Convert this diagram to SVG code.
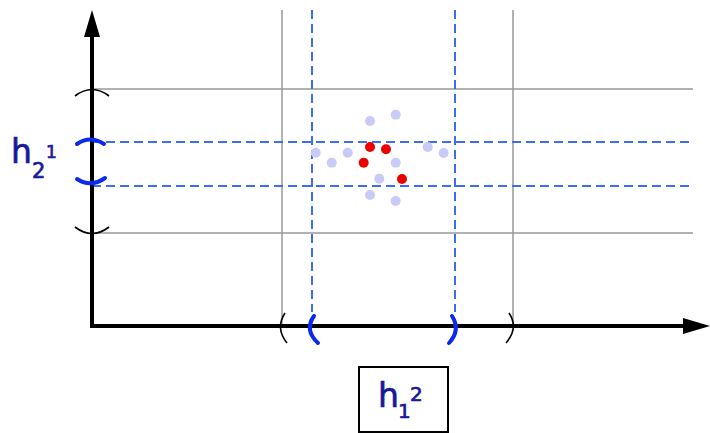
<svg xmlns="http://www.w3.org/2000/svg" width="710" height="433" viewBox="0 0 710 433">
<style>
.grid{stroke:#999;stroke-width:1.5;fill:none}
.dash{stroke:#3a6cf4;stroke-width:2;stroke-dasharray:9 5;fill:none}
.axis{stroke:#000;stroke-width:4;fill:none}
.bk{stroke:#000;stroke-width:1.6;fill:none}
.bb{stroke:#0a2af0;stroke-width:4;fill:none;stroke-linecap:round}
.lt{fill:#c9caf6}
.rd{fill:#ee0000}
.lbl{font-family:"DejaVu Sans",sans-serif;fill:#18189a;stroke:#18189a;stroke-width:0.7}
</style>
<rect width="710" height="433" fill="#fff"/>
<g id="grid">
<line class="grid" x1="282" y1="10" x2="282" y2="326"/>
<line class="grid" x1="513" y1="10" x2="513" y2="326"/>
<line class="grid" x1="92" y1="89" x2="693" y2="89"/>
<line class="grid" x1="92" y1="233" x2="693" y2="233"/>
</g>
<g id="dashed">
<line class="dash" x1="312" y1="10" x2="312" y2="312"/>
<line class="dash" x1="455" y1="10" x2="455" y2="312"/>
<line class="dash" x1="92" y1="142" x2="693" y2="142"/>
<line class="dash" x1="92" y1="186" x2="693" y2="186"/>
</g>
<g id="points">
<circle class="lt" cx="370" cy="121" r="5"/>
<circle class="lt" cx="395.7" cy="114.7" r="5"/>
<circle class="lt" cx="315.7" cy="152.7" r="5"/>
<circle class="lt" cx="331.7" cy="162.7" r="5"/>
<circle class="lt" cx="347.7" cy="152.7" r="5"/>
<circle class="lt" cx="427.7" cy="147" r="5"/>
<circle class="lt" cx="443.7" cy="153" r="5"/>
<circle class="lt" cx="395.7" cy="162.7" r="5"/>
<circle class="lt" cx="379.3" cy="178.7" r="5"/>
<circle class="lt" cx="370" cy="195" r="5"/>
<circle class="lt" cx="395.7" cy="201" r="5"/>
<circle class="rd" cx="370" cy="147" r="5"/>
<circle class="rd" cx="386" cy="149.3" r="5"/>
<circle class="rd" cx="363.7" cy="162.7" r="5"/>
<circle class="rd" cx="402" cy="179" r="5"/>
</g>
<g id="axes">
<line class="axis" x1="92" y1="328" x2="92" y2="34"/>
<polygon points="92,10 84,37 100,37" fill="#000"/>
<line class="axis" x1="90" y1="326" x2="686" y2="326"/>
<polygon points="710,326 683,318 683,334" fill="#000"/>
</g>
<g id="brackets">
<path class="bk" d="M75,96 Q92,83 109,96"/>
<path class="bk" d="M75,227 Q92,240 109,227"/>
<path class="bb" d="M77,144 Q90,135 104,144"/>
<path class="bb" d="M77,179 Q91,188 105,178"/>
<path class="bk" d="M285,313 Q275,328 287,343"/>
<path class="bb" d="M314,316 Q304,330 318,343"/>
<path class="bb" d="M452,316 Q461,330 449,343"/>
<path class="bk" d="M509,313 Q519,328 506,343"/>
</g>
<g id="label-h21">
<text class="lbl" x="11" y="163" font-size="33">h</text>
<text class="lbl" x="32" y="178" font-size="21">2</text>
<text class="lbl" x="46" y="158" font-size="17">1</text>
</g>
<g id="label-h12">
<rect x="359" y="367" width="89" height="65" fill="#fff" stroke="#000" stroke-width="2"/>
<text class="lbl" x="378" y="407" font-size="33">h</text>
<text class="lbl" x="398" y="418" font-size="20">1</text>
<text class="lbl" x="410" y="401" font-size="20">2</text>
</g>
</svg>
